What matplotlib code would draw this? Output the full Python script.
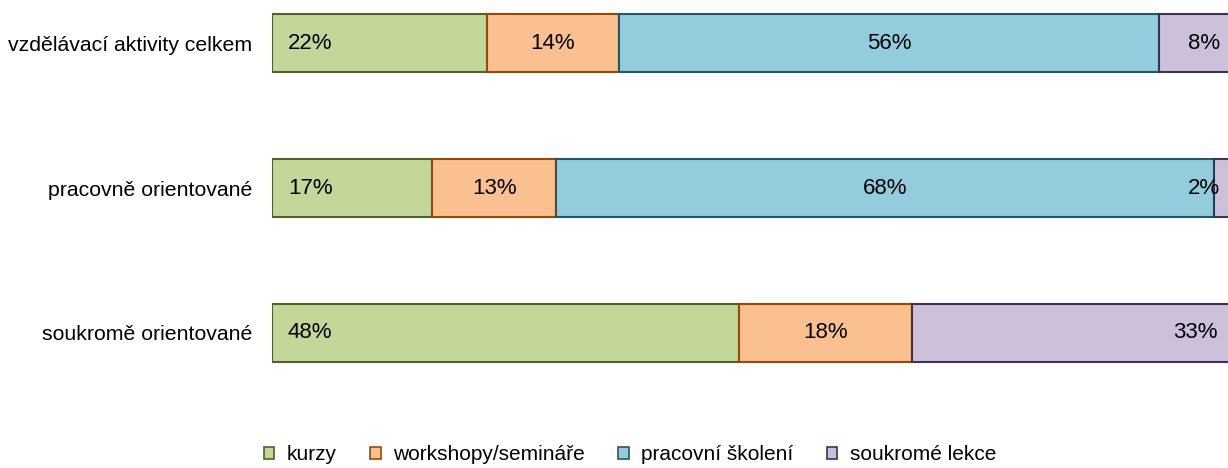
import numpy as np
import matplotlib.pyplot as plt
from matplotlib.patches import Patch

plt.rcParams['font.family'] = ['Liberation Sans', 'DejaVu Sans']

categories = ['vzdělávací aktivity celkem', 'pracovně orientované', 'soukromě orientované']
series = ['kurzy', 'workshopy/semináře', 'pracovní školení', 'soukromé lekce']
kurzy = [22.3, 16.6, 48.4]
workshopy = [13.7, 12.9, 18.0]
skoleni = [56.0, 68.2, 0.0]
lekce = [8.0, 2.3, 33.4]

faces = ['#C4D79B', '#FAC090', '#93CDDD', '#CCC0DA']
edges = ['#4F6228', '#984807', '#215968', '#3F3151']


def main():
    fig = plt.figure(figsize=(12.28, 4.68), dpi=100)
    W, H = 1228, 468
    ax = fig.add_axes([272 / W, (H - 405) / H, 964 / W, 405 / H])

    y = np.arange(len(categories))
    left = np.zeros(len(categories))
    data = [kurzy, workshopy, skoleni, lekce]
    pad = 16 / 964 * 100
    fs = 16
    for i, vals in enumerate(data):
        vals = np.array(vals)
        ax.barh(y, vals, left=left, height=0.4, color=faces[i],
                edgecolor=edges[i], linewidth=1.5)
        for j in range(len(categories)):
            if vals[j] <= 0:
                continue
            lab = f'{vals[j]:.0f}%'
            if i == 0:
                ax.text(left[j] + pad, y[j], lab, ha='left', va='center', fontsize=fs)
            elif i == len(data) - 1:
                ax.text(left[j] + vals[j] - pad, y[j], lab, ha='right', va='center', fontsize=fs)
            else:
                ax.text(left[j] + vals[j] / 2, y[j], lab, ha='center', va='center', fontsize=fs)
        left = left + vals

    ax.set_xlim(0, 100)
    ax.set_ylim(2.497, -0.297)
    ax.set_yticks(y)
    ax.set_yticklabels(categories, fontsize=15.3)
    ax.set_xticks([])
    ax.tick_params(axis='y', length=0, pad=14.4)
    for s in ax.spines.values():
        s.set_visible(False)

    handles = [Patch(facecolor=faces[i], edgecolor=edges[i], linewidth=1.2) for i in range(4)]
    fig.legend(handles, series, loc='center', bbox_to_anchor=(630 / W, 1 - 455 / H),
               ncol=4, frameon=False, fontsize=15, handlelength=0.5, handleheight=0.5,
               handletextpad=0.6, columnspacing=1.6, borderpad=0, borderaxespad=0)

    fig.savefig('out.png', dpi=100)


main()
